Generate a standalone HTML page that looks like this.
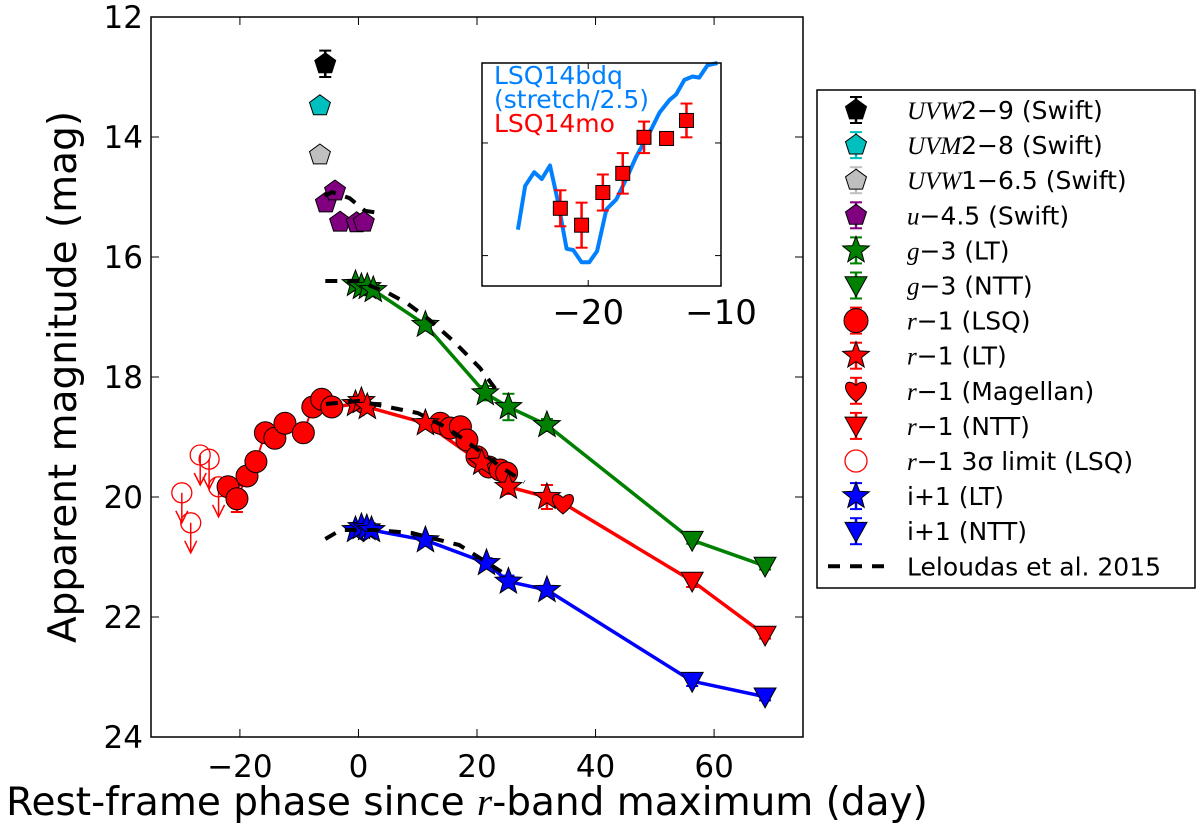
<!DOCTYPE html>
<html><head><meta charset="utf-8"><style>
body{margin:0;background:#fff}
svg{font-family:"DejaVu Sans","Liberation Sans",sans-serif}
</style></head><body>
<svg id="s" width="1200" height="829" viewBox="0 0 1200 829" xmlns="http://www.w3.org/2000/svg">
<rect width="1200" height="829" fill="#fff"/>
<g id="main"></g>
<g id="inset"></g>
<g id="legend"></g>
</svg>
<script>
// ---------- data ----------
const xTicks=[-20,0,20,40,60];
const yTicks=[12,14,16,18,20,22,24];
const uvw2X=[-5.6], uvw2Y=[12.78], uvw2E=[0.22];
const uvm2X=[-6.5], uvm2Y=[13.48], uvm2E=[0.08];
const uvw1X=[-6.5], uvw1Y=[14.3], uvw1E=[0.05];
const uX=[-5.5,-3.95,-3.1,-0.3,0.9], uY=[15.1,14.9,15.42,15.43,15.42], uE=[0.1,0.08,0.1,0.1,0.1];
const gLtX=[-0.5,0.5,1.5,2.5,11.3,21.4,25.3,31.8], gLtY=[16.45,16.5,16.5,16.55,17.13,18.27,18.5,18.8], gLtE=[0.05,0.05,0.05,0.05,0.05,0.12,0.22,0.1];
const gNttX=[56.3,68.6], gNttY=[20.72,21.15], gNttE=[0.06,0.06];
const rLsqX=[-22,-20.5,-18.8,-17.3,-15.7,-14.1,-12.4,-9.3,-7.7,-6.2,-4.5,13.8,15.5,17.2,18.3,20,22,23.9,25];
const rLsqY=[19.83,20.03,19.65,19.41,18.93,19.02,18.77,18.93,18.5,18.37,18.5,18.77,18.85,18.83,19.05,19.33,19.5,19.55,19.6];
const rLsqE=[0.1,0.22,0.1,0.1,0.1,0.1,0.1,0.1,0.1,0.1,0.1,0.1,0.1,0.1,0.1,0.1,0.15,0.15,0.15];
const rLtX=[-0.5,0.5,1.5,11.3,20.8,25.3,31.8], rLtY=[18.45,18.4,18.5,18.77,19.43,19.83,20.0], rLtE=[0.05,0.05,0.05,0.05,0.1,0.12,0.2];
const rMagX=[34.5], rMagY=[20.1], rMagE=[0.05];
const rNttX=[56.3,68.6], rNttY=[21.4,22.3], rNttE=[0.1,0.06];
const rLimX=[-29.8,-28.3,-26.7,-25.2,-23.6], rLimY=[19.93,20.43,19.3,19.37,19.83];
const iLtX=[-0.5,0.5,1.4,2.2,11.3,21.6,25.3,31.8], iLtY=[20.55,20.5,20.52,20.55,20.72,21.1,21.41,21.55], iLtE=[0.05,0.05,0.05,0.05,0.05,0.08,0.1,0.06];
const iNttX=[56.3,68.6], iNttY=[23.07,23.33], iNttE=[0.08,0.06];
const lelUX=[-5.7,-4.45,-1.5,1.1,4.3], lelUY=[14.98,14.92,15.02,15.23,15.28];
const lelGX=[-5.6,0,5,8.2,12,16,20.5,23.5], lelGY=[16.4,16.4,16.6,16.77,17.05,17.4,17.85,18.25];
const lelRX=[-5.5,0,5,10,15,20,24,28], lelRY=[18.45,18.4,18.5,18.6,18.85,19.2,19.5,19.75];
const lelIX=[-5.6,-3,3,9,17,21,25], lelIY=[20.7,20.55,20.55,20.6,20.8,21.05,21.3];
// inset
const insXTicks=[-20,-10];
const insYTicks=[1,2];
const bdqX=[-25.3,-24.75,-24.07,-23.5,-22.88,-22.26,-21.63,-21.13,-20.5,-19.93,-19.33,-18.63,-17.88,-17.14,-16.38,-15.26,-14.63,-13.89,-13.38,-12.76,-12.14,-11.64,-11.02,-10.26];
const bdqY=[1.77,1.38,1.26,1.32,1.20,1.53,1.94,1.95,2.06,2.06,1.96,1.59,1.50,1.32,1.12,0.88,0.73,0.62,0.57,0.44,0.41,0.42,0.31,0.29];
const moX=[-22.1,-20.5,-18.9,-17.4,-15.8,-14.1,-12.6];
const moY=[1.58,1.73,1.44,1.27,0.95,0.96,0.80];
const moE=[0.16,0.2,0.16,0.18,0.14,0.05,0.15];

// ---------- helpers ----------
const NS="http://www.w3.org/2000/svg";
function mk(p,t,a){const e=document.createElementNS(NS,t);for(const k in a)e.setAttribute(k,a[k]);p.appendChild(e);return e;}
const X0=151,X1=803,Y0=17,Y1=737,xMin=-35,xMax=75,yMin=12,yMax=24;
const sx=v=>X0+(v-xMin)/(xMax-xMin)*(X1-X0);
const sy=v=>Y0+(v-yMin)/(yMax-yMin)*(Y1-Y0);
const IX0=482,IX1=721,IY0=63,IY1=286,ixMin=-28,ixMax=-10,iyMin=0.29,iyMax=2.27;
const isx=v=>IX0+(v-ixMin)/(ixMax-ixMin)*(IX1-IX0);
const isy=v=>IY0+(v-iyMin)/(iyMax-iyMin)*(IY1-IY0);
function starPts(cx,cy,R){let p=[];for(let i=0;i<10;i++){const r=i%2?R*0.42:R;const a=-Math.PI/2+i*Math.PI/5;p.push((cx+r*Math.cos(a)).toFixed(1)+","+(cy+r*Math.sin(a)).toFixed(1));}return p.join(" ");}
function pentPts(cx,cy,R){let p=[];for(let i=0;i<5;i++){const a=-Math.PI/2+i*2*Math.PI/5;p.push((cx+R*Math.cos(a)).toFixed(1)+","+(cy+R*Math.sin(a)).toFixed(1));}return p.join(" ");}
function marker(g,type,cx,cy,fill,size){
  let e;
  if(type==='star')e=mk(g,'polygon',{points:starPts(cx,cy,size||14),fill:fill,stroke:'#000','stroke-width':1});
  else if(type==='pent')e=mk(g,'polygon',{points:pentPts(cx,cy,size||11),fill:fill,stroke:'#000','stroke-width':1});
  else if(type==='circ')e=mk(g,'circle',{cx:cx,cy:cy,r:size||11,fill:fill,stroke:'#000','stroke-width':1});
  else if(type==='tri'){const s=size||11;e=mk(g,'polygon',{points:`${cx-s},${cy-s*0.8} ${cx+s},${cy-s*0.8} ${cx},${cy+s*1.0}`,fill:fill,stroke:'#000','stroke-width':1});}
  else if(type==='heart'){const s=size||11;e=mk(g,'path',{d:`M${cx},${cy+s} C${cx-s*1.6},${cy-s*0.2} ${cx-s*0.9},${cy-s*1.3} ${cx},${cy-s*0.5} C${cx+s*0.9},${cy-s*1.3} ${cx+s*1.6},${cy-s*0.2} ${cx},${cy+s}Z`,fill:fill,stroke:'#000','stroke-width':1});}
  else if(type==='sq'){const s=size||8;e=mk(g,'rect',{x:cx-s,y:cy-s,width:2*s,height:2*s,fill:fill,stroke:'#000','stroke-width':1});}
  else if(type==='open'){e=mk(g,'circle',{cx:cx,cy:cy,r:size||10,fill:'none',stroke:fill,'stroke-width':1.3});}
  return e;
}
function errbar(g,cx,y1,y2,col){mk(g,'line',{x1:cx,y1:y1,x2:cx,y2:y2,stroke:col,'stroke-width':2.5});mk(g,'line',{x1:cx-6,y1:y1,x2:cx+6,y2:y1,stroke:col,'stroke-width':2});mk(g,'line',{x1:cx-6,y1:y2,x2:cx+6,y2:y2,stroke:col,'stroke-width':2});}
function series(g,name,xs,ys,es,type,fill,ecol){
  const sg=mk(g,'g',{});
  
  
  xs.forEach((x,i)=>{errbar(sg,sx(x),sy(ys[i]-es[i]),sy(ys[i]+es[i]),ecol||fill);});
  xs.forEach((x,i)=>{const m=marker(sg,type,sx(x),sy(ys[i]),fill);
    
    });
}
function line(g,name,xs,ys,col,w,dash,fx,fy){
  fx=fx||sx;fy=fy||sy;
  const idx=xs.map((_,i)=>i).sort((a,b)=>xs[a]-xs[b]);
  const d=idx.map((i,k)=>(k?'L':'M')+fx(xs[i]).toFixed(1)+','+fy(ys[i]).toFixed(1)).join(' ');
  const e=mk(g,'path',{d:d,fill:'none',stroke:col,'stroke-width':w,'stroke-dasharray':dash||'none','stroke-linejoin':'round'});
  
  
}

// ---------- main axes ----------
const M=document.getElementById('main');
xTicks.forEach(t=>{const x=sx(t);mk(M,'line',{x1:x,y1:Y1,x2:x,y2:Y1-8,stroke:'#000'});mk(M,'line',{x1:x,y1:Y0,x2:x,y2:Y0+8,stroke:'#000'});
  const tx=mk(M,'text',{x:x,y:Y1+40,'font-size':31,'text-anchor':'middle'});tx.textContent=(t<0?'\u2212':'')+Math.abs(t);
  
  });
yTicks.forEach(t=>{const y=sy(t);mk(M,'line',{x1:X0,y1:y,x2:X0+8,y2:y,stroke:'#000'});mk(M,'line',{x1:X1,y1:y,x2:X1-8,y2:y,stroke:'#000'});
  const tx=mk(M,'text',{x:X0-8,y:y+11,'font-size':31,'text-anchor':'end'});tx.textContent=t;
  
  });
const yl=mk(M,'text',{x:0,y:0,'font-size':39,'text-anchor':'middle',transform:`translate(76,${(Y0+Y1)/2}) rotate(-90)`});yl.textContent='Apparent magnitude (mag)';

const xl=mk(M,'text',{x:467,y:815,'font-size':39,'text-anchor':'middle'});
xl.innerHTML='Rest-frame phase since <tspan font-family="Liberation Serif,serif" font-style="italic">r</tspan>-band maximum (day)';


// lines
line(M,'g-line',gLtX.concat(gNttX),gLtY.concat(gNttY),'#008000',3.5);
line(M,'r-line',rLtX.concat(rNttX,rMagX,[-4.5]),rLtY.concat(rNttY,rMagY,[18.5]),'#ff0000',3.5);
line(M,'i-line',iLtX.concat(iNttX),iLtY.concat(iNttY),'#0000ff',3.5);
line(M,'r-lsq-line',rLsqX.slice(0,11),rLsqY.slice(0,11),'#ff0000',2);
// limits
const LG=mk(M,'g',{});
rLimX.forEach((x,i)=>{const cx=sx(x),cy=sy(rLimY[i]);marker(LG,'open',cx,cy,'#ff0000');
  mk(LG,'line',{x1:cx,y1:cy,x2:cx,y2:cy+30,stroke:'#ff0000','stroke-width':1.5});
  mk(LG,'path',{d:`M${cx-6},${cy+18} L${cx},${cy+30} L${cx+6},${cy+18}`,fill:'none',stroke:'#ff0000','stroke-width':1.5});});
series(M,'uvw2-series',uvw2X,uvw2Y,uvw2E,'pent','#000');
series(M,'uvm2-series',uvm2X,uvm2Y,uvm2E,'pent','#00bfbf');
series(M,'uvw1-series',uvw1X,uvw1Y,uvw1E,'pent','#bfbfbf');
series(M,'u-series',uX,uY,uE,'pent','#800080');
series(M,'r-lsq-series',rLsqX,rLsqY,rLsqE,'circ','#ff0000');
series(M,'g-lt-series',gLtX,gLtY,gLtE,'star','#008000');
series(M,'g-ntt-series',gNttX,gNttY,gNttE,'tri','#008000');
series(M,'r-lt-series',rLtX,rLtY,rLtE,'star','#ff0000');
series(M,'r-magellan-series',rMagX,rMagY,rMagE,'heart','#ff0000');
series(M,'r-ntt-series',rNttX,rNttY,rNttE,'tri','#ff0000');
series(M,'i-lt-series',iLtX,iLtY,iLtE,'star','#0000ff');
series(M,'i-ntt-series',iNttX,iNttY,iNttE,'tri','#0000ff');
line(M,'leloudas-u',lelUX,lelUY,'#000',4,'12,10');
line(M,'leloudas-g',lelGX,lelGY,'#000',4,'12,10');
line(M,'leloudas-r',lelRX,lelRY,'#000',4,'12,10');
line(M,'leloudas-i',lelIX,lelIY,'#000',4,'12,10');
mk(M,'rect',{x:X0,y:Y0,width:X1-X0,height:Y1-Y0,fill:'none',stroke:'#000','stroke-width':1.5});

// ---------- inset ----------
const I=document.getElementById('inset');
mk(I,'rect',{x:IX0,y:IY0,width:IX1-IX0,height:IY1-IY0,fill:'#fff',stroke:'none'});
insXTicks.forEach(t=>{const x=isx(t);mk(I,'line',{x1:x,y1:IY1,x2:x,y2:IY1-6,stroke:'#000'});mk(I,'line',{x1:x,y1:IY0,x2:x,y2:IY0+6,stroke:'#000'});
  const tx=mk(I,'text',{x:x,y:IY1+38,'font-size':34,'text-anchor':'middle'});tx.textContent='\u2212'+Math.abs(t);
  });
insYTicks.forEach(t=>{const y=isy(t);mk(I,'line',{x1:IX0,y1:y,x2:IX0+6,y2:y,stroke:'#000'});mk(I,'line',{x1:IX1,y1:y,x2:IX1-6,y2:y,stroke:'#000'});});
line(I,'lsq14bdq-line',bdqX,bdqY,'#0080ff',4,null,isx,isy);
const MG=mk(I,'g',{});
moX.forEach((x,i)=>{errbar(MG,isx(x),isy(moY[i]-moE[i]),isy(moY[i]+moE[i]),'#ff0000');});
moX.forEach((x,i)=>{marker(MG,'sq',isx(x),isy(moY[i]),'#ff0000',7);});
[['LSQ14bdq',0,'#0080ff'],['(stretch/2.5)',1,'#0080ff'],['LSQ14mo',2,'#ff0000']].forEach(a=>{
  const t=mk(I,'text',{x:IX0+12,y:IY0+21+a[1]*24,'font-size':25,fill:a[2]});t.textContent=a[0];
  });
mk(I,'rect',{x:IX0,y:IY0,width:IX1-IX0,height:IY1-IY0,fill:'none',stroke:'#000','stroke-width':1.5});

// ---------- legend ----------
const L=document.getElementById('legend');
mk(L,'rect',{x:817,y:90,width:378,height:498,fill:'#fff',stroke:'#000','stroke-width':1.5});
const it='<tspan font-family="Liberation Serif,serif" font-style="italic">';
const entries=[
 ['pent','#000',it+'UVW</tspan>2\u22129 (Swift)'],
 ['pent','#00bfbf',it+'UVM</tspan>2\u22128 (Swift)'],
 ['pent','#bfbfbf',it+'UVW</tspan>1\u22126.5 (Swift)'],
 ['pent','#800080',it+'u</tspan>\u22124.5 (Swift)'],
 ['star','#008000',it+'g</tspan>\u22123 (LT)'],
 ['tri','#008000',it+'g</tspan>\u22123 (NTT)'],
 ['circ','#ff0000',it+'r</tspan>\u22121 (LSQ)'],
 ['star','#ff0000',it+'r</tspan>\u22121 (LT)'],
 ['heart','#ff0000',it+'r</tspan>\u22121 (Magellan)'],
 ['tri','#ff0000',it+'r</tspan>\u22121 (NTT)'],
 ['open','#ff0000',it+'r</tspan>\u22121 3\u03c3 limit (LSQ)'],
 ['star','#0000ff','i+1 (LT)'],
 ['tri','#0000ff','i+1 (NTT)'],
 ['dash','#000','Leloudas et al. 2015']];
entries.forEach((e,k)=>{const y=110+k*35.1;const g=mk(L,'g',{});
  
  
  if(e[0]==='dash'){mk(g,'line',{x1:828,y1:y,x2:884,y2:y,stroke:'#000','stroke-width':4,'stroke-dasharray':'12,10'});}
  else{if(e[0]!=='open')errbar(g,856,y-13,y+13,e[1]);marker(g,e[0],856,y,e[1],e[0]==='star'?14:(e[0]==='circ'?12:11));}
  const t=mk(g,'text',{x:907,y:y+9,'font-size':25});t.innerHTML=e[2];});
</script>
</body></html>
